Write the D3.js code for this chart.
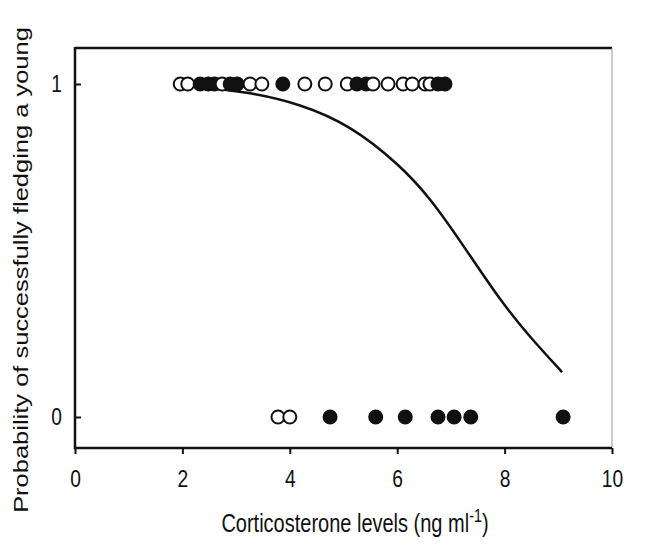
<!DOCTYPE html>
<html>
<head>
<meta charset="utf-8">
<script src="https://cdn.jsdelivr.net/npm/d3@7"></script>
<style>
  body { margin: 0; background: #fff; }
  svg { font-family: "Liberation Sans", Arial, sans-serif; }
</style>
</head>
<body>
<svg width="646" height="546"></svg>
<script>
// fledged (y = 1) and failed (y = 0) nests, corticosterone in ng/ml
var fledgedOpen = [1.96, 2.1, 2.74, 3.26, 3.48, 4.28, 4.66, 5.07, 5.55, 5.83, 6.11, 6.28, 6.52, 6.61];
var fledgedFilled = [2.33, 2.48, 2.6, 2.89, 3.02, 3.87, 5.25, 5.42, 6.76, 6.89];
var failedOpen = [3.78, 4.0];
var failedFilled = [4.75, 5.6, 6.15, 6.76, 7.06, 7.37, 9.09];

// fitted logistic curve
var curveX = [1.95, 3.26, 4.19, 5.12, 6.05, 6.61, 7.17, 7.91, 8.47, 9.07];
var curveP = [0.998, 0.976, 0.94, 0.877, 0.757, 0.658, 0.53, 0.351, 0.24, 0.135];

var xTicks = [0, 2, 4, 6, 8, 10];
var yTicks = [0, 1];

var svg = d3.select("svg");

var mLeft = 75, mRight = 612, mTop = 48, mBottom = 448;
var squeeze = "scale(0.8,1)"; // the figure's lettering is horizontally condensed

var x = d3.scaleLinear().domain([0, 10]).range([mLeft, mRight]);
var y = d3.scaleLinear().domain([0, 1]).range([417, 84]);

// frame
svg.append("line").attr("x1", mLeft).attr("x2", mRight).attr("y1", mTop).attr("y2", mTop)
  .attr("stroke", "#111").attr("stroke-width", 2.5);
svg.append("line").attr("x1", mRight).attr("x2", mRight).attr("y1", mTop).attr("y2", mBottom)
  .attr("stroke", "#999").attr("stroke-width", 1);

// axes
var xAxis = d3.axisBottom(x).tickValues(xTicks).tickSizeInner(6).tickSizeOuter(0).tickPadding(16);
var gx = svg.append("g").attr("transform", "translate(0," + mBottom + ")").call(xAxis);
gx.select(".domain").remove();
gx.selectAll(".tick line").attr("stroke", "#111").attr("stroke-width", 2);
gx.selectAll("text").attr("font-size", 24).attr("fill", "#111")
  .attr("font-family", "Liberation Sans, Arial, sans-serif").attr("transform", squeeze);

var yAxis = d3.axisLeft(y).tickValues(yTicks).tickFormat(d3.format("d"))
  .tickSizeInner(-6).tickSizeOuter(0).tickPadding(13);
var gy = svg.append("g").attr("transform", "translate(" + mLeft + ",0)").call(yAxis);
gy.select(".domain").remove();
gy.selectAll(".tick line").attr("stroke", "#111").attr("stroke-width", 2);
gy.selectAll("text").attr("font-size", 24).attr("fill", "#111")
  .attr("font-family", "Liberation Sans, Arial, sans-serif")
  .attr("x", -13 / 0.8).attr("transform", squeeze);

svg.append("line").attr("x1", mLeft).attr("x2", mLeft).attr("y1", mTop - 1).attr("y2", mBottom + 1)
  .attr("stroke", "#111").attr("stroke-width", 2.5);
svg.append("line").attr("x1", mLeft - 1).attr("x2", mRight).attr("y1", mBottom).attr("y2", mBottom)
  .attr("stroke", "#111").attr("stroke-width", 2.5);

// fitted curve
var line = d3.line()
  .x(function(d, i) { return x(curveX[i]); })
  .y(function(d) { return y(d); })
  .curve(d3.curveBasis);

svg.append("path")
  .datum(curveP)
  .attr("d", line)
  .attr("fill", "none")
  .attr("stroke", "#111")
  .attr("stroke-width", 2.5);

// points, drawn in x order so overlaps look like the figure
var pts = [];
fledgedOpen.forEach(function(v) { pts.push({ x: v, y: 1, open: true }); });
fledgedFilled.forEach(function(v) { pts.push({ x: v, y: 1, open: false }); });
failedOpen.forEach(function(v) { pts.push({ x: v, y: 0, open: true }); });
failedFilled.forEach(function(v) { pts.push({ x: v, y: 0, open: false }); });
pts.sort(function(a, b) { return a.x - b.x; });

svg.selectAll("circle.pt")
  .data(pts)
  .enter()
  .append("circle")
  .attr("class", "pt")
  .attr("cx", function(d) { return x(d.x); })
  .attr("cy", function(d) { return y(d.y); })
  .attr("r", 6.5)
  .attr("fill", function(d) { return d.open ? "#fff" : "#111"; })
  .attr("stroke", "#111")
  .attr("stroke-width", 2);

// axis titles
var xt = svg.append("text")
  .attr("transform", "translate(355,532) " + squeeze)
  .attr("text-anchor", "middle")
  .attr("font-size", 25)
  .attr("fill", "#111");
xt.append("tspan").text("Corticosterone levels (ng ml");
xt.append("tspan").attr("dy", -10).attr("font-size", 18).text("-1");
xt.append("tspan").attr("dy", 10).text(")");

svg.append("text")
  .attr("transform", "translate(28,270) rotate(-90) scale(1,0.82)")
  .attr("text-anchor", "middle")
  .attr("font-size", 25.5)
  .attr("fill", "#111")
  .text("Probability of successfully fledging a young");
</script>
</body>
</html>
